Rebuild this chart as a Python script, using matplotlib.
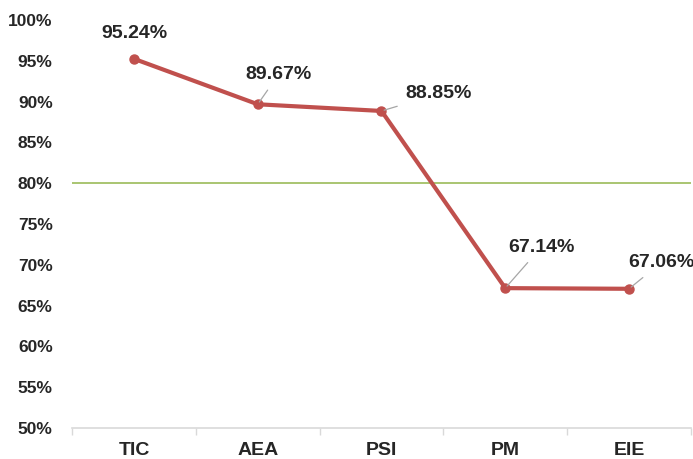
import matplotlib.pyplot as plt

# data
categories = ["TIC", "AEA", "PSI", "PM", "EIE"]
values = [95.24, 89.67, 88.85, 67.14, 67.06]
target = 80
label_offsets = [(0, 25), (21, 30), (57, 17), (36, 41), (32, 26)]

plt.rcParams["font.family"] = ["Liberation Sans", "DejaVu Sans"]

fig = plt.figure(figsize=(6.93, 4.59), dpi=100)
ax = fig.add_axes([0.104, 0.0675, 0.893, 0.889])

x = list(range(len(categories)))

# target line
ax.axhline(target, color="#9BBB59", linewidth=1.2, zorder=2)

# main line
ax.plot(x, values, color="#C0504D", linewidth=3.0, marker="o",
        markersize=6.5, solid_joinstyle="round", zorder=3)

# data labels
for xi, v, off in zip(x, values, label_offsets):
    lead = off != (0, 25)
    ax.annotate(f"{v:.2f}%", xy=(xi, v), xytext=off,
                textcoords="offset pixels", ha="center", va="center",
                fontsize=14, fontweight="bold", color="#262626",
                arrowprops=dict(arrowstyle="-", color="#A6A6A6", lw=0.9,
                                shrinkA=4, shrinkB=2) if lead else None,
                zorder=4)

ax.set_xlim(-0.5, len(categories) - 0.5)
ax.set_ylim(50, 100)
ax.set_yticks(range(50, 101, 5))
ax.set_yticklabels([f"{t}%" for t in range(50, 101, 5)],
                   fontsize=12.5, fontweight="bold", color="#262626")
ax.tick_params(axis="y", length=0, pad=14)

ax.set_xticks(x)
ax.set_xticklabels(categories, fontsize=14, fontweight="bold", color="#262626")
ax.set_xticks([i - 0.5 for i in range(len(categories) + 1)], minor=True)
ax.tick_params(axis="x", which="major", length=0, pad=10)
ax.tick_params(axis="x", which="minor", length=5, color="#D9D9D9", width=1)

for s in ["top", "right", "left"]:
    ax.spines[s].set_visible(False)
ax.spines["bottom"].set_color("#D9D9D9")
ax.spines["bottom"].set_linewidth(1.2)

fig.savefig("out.png", dpi=100)
